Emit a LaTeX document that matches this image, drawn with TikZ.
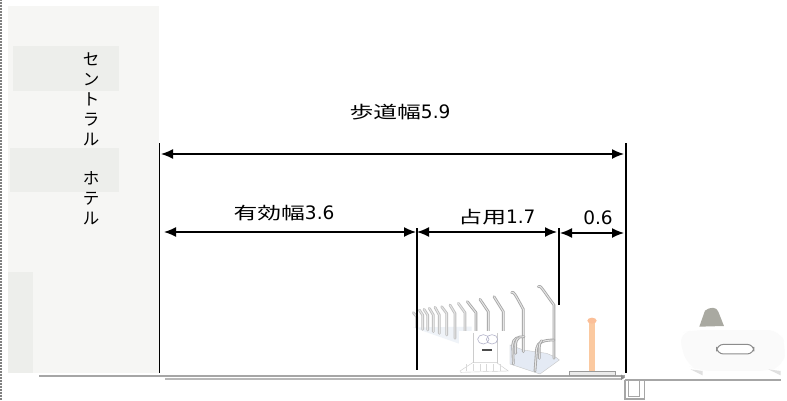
\documentclass[tikz,border=0pt]{standalone}
\usepackage{graphicx}
\usepackage{fontspec}
\newfontfamily\jpf{Noto Sans CJK JP}
\newfontfamily\latf{DejaVu Sans}
\usetikzlibrary{arrows.meta}
\definecolor{bldg}{HTML}{F6F6F4}
\definecolor{winc}{HTML}{EDEEEB}
\definecolor{rackblue}{HTML}{E4EAF4}
\definecolor{bollard}{HTML}{FBC9A0}
\definecolor{headc}{HTML}{A9A9A1}
\tikzset{
  dimline/.style={line width=1.4pt,{Latex[length=12pt,width=10pt]}-{Latex[length=12pt,width=10pt]}},
  wall/.style={line width=1.4pt,black},
  lab/.style={inner sep=0pt,font=\fontsize{17}{18}\selectfont\jpf},
  tube/.style={draw=#1,line width=.85pt,double=black!10,double distance=1pt,line cap=round,line join=round},
  tube/.default={black!35},
  ground/.style={draw=black!35,line width=1.5pt},
  win/.style={fill=winc,draw=none}
}
\newcommand{\kj}[1]{\scalebox{1.4}[1]{#1}}
\newcommand{\lm}[1]{{\latf\fontsize{18.5}{18}\selectfont #1}}
\begin{document}
\begin{tikzpicture}[x=1pt,y=-1pt]
\useasboundingbox (0,0) rectangle (787,400);
\fill[white] (0,0) rectangle (787,400);
% page edge
\draw[black!50,line width=2pt,dash pattern=on 1pt off .5pt] (1,0) -- (1,400);
% building
\fill[bldg] (8,6) rectangle (159,373);
\fill[win] (13,46) rectangle (119,91);
\fill[win] (10,148) rectangle (119,192);
\fill[win] (8,272) rectangle (33,373);
\node[inner sep=0pt,align=center,font=\fontsize{16.5}{19.9}\selectfont\jpf] (hotel) at (91,139) {セ\\ン\\ト\\ラ\\ル\\ \\ホ\\テ\\ル};
% ground
\coordinate (gA) at (39,376);
\coordinate (gB) at (625,376);
\coordinate (gC) at (165,379);
\coordinate (gD) at (622,379);
\coordinate (gE) at (625,380);
\coordinate (gF) at (781,380);
\draw[ground] (gA) -- (gB);
\draw[draw=black!28,line width=1.4pt] (gC) -- (gD);
\draw[ground] (gE) -- (gF);
\fill[black!45] (621,374.5) -- (625,377.5) -- (621,380) -- cycle;
% scene in zoom coordinates
\begin{scope}[shift={(400,270)},x=.3333pt,y=-.3333pt]
% gutter
\draw[black!35,line width=1.2pt] (675,330) -- (675,387) -- (733,387) -- (733,330);
\draw[black!35,line width=1pt] (686,330) -- (686,379) -- (720,379) -- (720,330);
% far racks base
\fill[rackblue!60!white] (38,172) -- (180,222) -- (215,190) -- (215,170) -- (60,172) -- cycle;
\foreach \a/\b/\c/\d/\e in {40/128/50/140/172,58/120/68/135/178,72/118/83/135/180,88/115/100/135/185,105/112/118/135/190,125/110/140/130/195,150/105/165/130/205,175/100/195/128/190}
  \draw[tube=black!25] (\a,\b) -- (\c,\d) -- (\c,\e);
\foreach \a/\b/\c/\d/\e in {202/95/228/128/185,240/88/265/125/185,282/80/310/125/190}
  \draw[tube] (\a,\b) -- (\c,\d) -- (\c,\e);
% sign stand
\fill[white] (178,183) rectangle (325,305);
\draw[black!20,fill=white,line width=.4pt] (218,278) -- (180,303) -- (182,307) -- (325,303) -- (290,278) -- cycle;
\foreach \q in {200,220,240,260,280,300}
  \draw[black!15,line width=.4pt] (\q,283) -- (\q,303);
\draw[black!20,line width=.4pt] (220,190) -- (220,278);
\draw[black!20,line width=.4pt] (292,190) -- (292,278);
\draw[blue!30!black!30,line width=.6pt] (250,208) circle[x radius=17,y radius=14];
\draw[blue!30!black!30,line width=.6pt] (276,208) circle[x radius=17,y radius=14];
\fill[black!70] (247,236) rectangle (275,242);
% near racks
\fill[rackblue,draw=black!22,line width=.4pt] (330,225) -- (330,282) -- (420,312) -- (478,270) -- (468,262) -- (440,250) -- (370,240) -- cycle;
\draw[tube] (335,68) .. controls (340,62) and (345,72) .. (370,118) -- (370,245);
\draw[tube] (415,50) .. controls (420,42) and (430,62) .. (462,105) -- (462,265);
\draw[tube] (340,282) -- (338,225) .. controls (338,205) and (355,200) .. (372,200);
\draw[tube] (405,303) -- (410,235) .. controls (412,215) and (435,210) .. (462,210);
\draw[tube] (355,205) .. controls (345,210) and (347,225) .. (347,250);
\draw[tube] (425,212) .. controls (415,220) and (418,240) .. (418,265);
% bollard
\fill[bollard] (568,155) rectangle (584,304);
\fill[bollard!95!red] (576,152) circle[x radius=14,y radius=9];
\draw[black!40,fill=black!8,line width=.8pt] (507,304) rectangle (647,317);
% car
\fill[black!2,rounded corners=12pt] (885,180) -- (1140,180) -- (1158,230) -- (1150,290) -- (1100,303) -- (900,303) -- (860,285) -- (835,190) -- cycle;
\fill[headc] (898,170) -- (915,122) .. controls (930,110) and (950,110) .. (955,125) -- (972,168) -- cycle;
\draw[black!45,fill=white,line width=1pt,rounded corners=7pt] (950,223) rectangle (1062,252);
\fill[black!12] (872,298) -- (908,303) -- (908,316) -- cycle;
\fill[black!12] (1105,298) -- (1142,303) -- (1142,316) -- cycle;
\end{scope}
% extension lines
\coordinate (w1t) at (159,143); \coordinate (w1b) at (159,373);
\coordinate (w2t) at (417,228); \coordinate (w2b) at (417,370);
\coordinate (w3t) at (559,228); \coordinate (w3b) at (559,305);
\coordinate (w4t) at (626,143); \coordinate (w4b) at (626,373);
\draw[line width=.9pt] (w1t) -- (w1b);
\draw[wall] (w2t) -- (w2b);
\draw[wall] (w3t) -- (w3b);
\draw[wall] (w4t) -- (w4b);
% dimension lines
\coordinate (a1) at (161,154); \coordinate (a2) at (624,154);
\coordinate (b1) at (164,232); \coordinate (b2) at (416,232);
\coordinate (b3) at (417,232); \coordinate (b4) at (557,232);
\coordinate (b5) at (560,233); \coordinate (b6) at (624,233);
\draw[dimline] (a1) -- (a2);
\draw[dimline] (b1) -- (b2);
\draw[dimline] (b3) -- (b4);
\draw[dimline] (b5) -- (b6);
% labels
\node[lab] (l1) at (400,112) {\kj{歩道幅}\lm{5.9}};
\node[lab] (l2) at (284,213) {\kj{有効幅}\lm{3.6}};
\node[lab] (l3) at (497,217) {\kj{占用}\lm{1.7}};
\node[lab] (l4) at (598,218) {\lm{0.6}};
\end{tikzpicture}
\end{document}
